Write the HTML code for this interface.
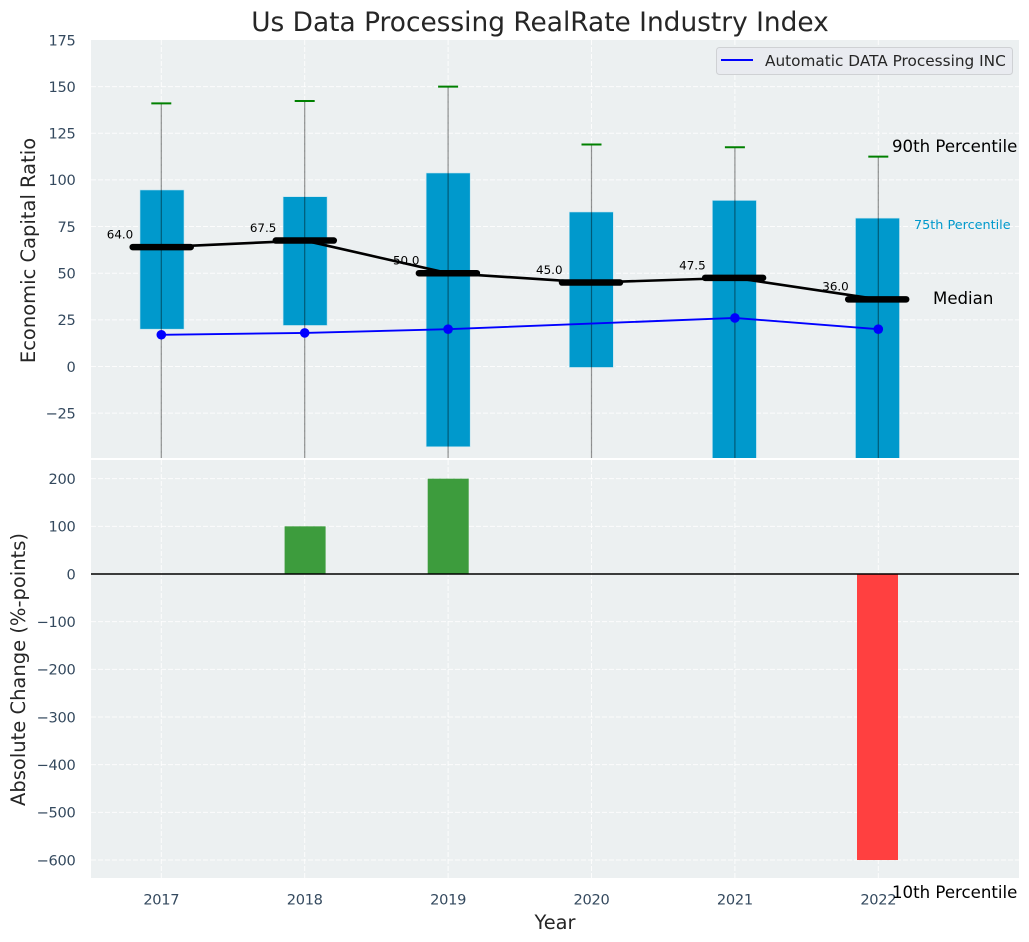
<!DOCTYPE html>
<html lang="en">
<head>
<meta charset="utf-8">
<title>Us Data Processing RealRate Industry Index</title>
<style>
html,body{margin:0;padding:0;background:#fff;width:1029px;height:942px;overflow:hidden}
svg{display:block}
text{font-family:"DejaVu Sans","Liberation Sans",sans-serif}
</style>
</head>
<body>
<svg id="chart" width="1029" height="942" viewBox="0 0 1029 942" xmlns="http://www.w3.org/2000/svg">
  <defs>
    <clipPath id="clip-top"><rect x="91" y="40" width="928" height="418"/></clipPath>
    <clipPath id="clip-bottom"><rect x="91" y="460" width="928" height="418"/></clipPath>
  </defs>
  <rect x="91" y="40" width="928" height="418" fill="#ecf0f1"/>
  <rect x="91" y="460" width="928" height="418" fill="#ecf0f1"/>
  <g id="grid-layer"></g>
  <g id="top-layer" clip-path="url(#clip-top)"></g>
  <g id="bottom-layer" clip-path="url(#clip-bottom)"></g>
  <g id="tick-layer"></g>

  <text x="540" y="31" font-size="26.4" fill="#262626" text-anchor="middle">Us Data Processing RealRate Industry Index</text>
  <text transform="translate(35,250.5) rotate(-90)" font-size="19.5" fill="#262626" text-anchor="middle">Economic Capital Ratio</text>
  <text transform="translate(25,669.5) rotate(-90)" font-size="19.5" fill="#262626" text-anchor="middle">Absolute Change (%-points)</text>
  <text x="555" y="929" font-size="19.4" fill="#262626" text-anchor="middle">Year</text>

  <text x="892" y="152" font-size="16.6" fill="#000">90th Percentile</text>
  <text x="914" y="229" font-size="12.8" fill="#0099cc">75th Percentile</text>
  <text x="933" y="304" font-size="16.6" fill="#000">Median</text>
  <text x="892" y="898" font-size="16.6" fill="#000">10th Percentile</text>

  <g>
    <rect x="716.5" y="47.5" width="296" height="27" rx="3" fill="#e9ebf0" stroke="#cfd1d4" stroke-width="1"/>
    <line x1="721" y1="60" x2="753" y2="60" stroke="#0000ff" stroke-width="2"/>
    <text x="765" y="66" font-size="15.3" fill="#262626">Automatic DATA Processing INC</text>
  </g>
</svg>
<script>
const years = [2017, 2018, 2019, 2020, 2021, 2022];
const p90 = [141, 142.3, 150, 119, 117.5, 112.5];
const p75 = [94.6, 91, 103.7, 82.8, 89, 79.5];
const p50 = [64, 67.5, 50, 45, 47.5, 36];
const p25 = [20, 22, -43, -0.5, -55, -60];
const p10 = [-80, -80, -80, -80, -80, -80];
const company = [17, 18, 20, null, 26, 20];
const changes = [null, 100, 200, null, null, -600];
const topTicks = [175, 150, 125, 100, 75, 50, 25, 0, -25];
const bottomTicks = [200, 100, 0, -100, -200, -300, -400, -500, -600];

const SVG_NS = 'http://www.w3.org/2000/svg';
const xScale = v => 161.3 + (v - 2017) * 143.4;
const xBar = v => 162 + (v - 2017) * 143.1;
const yTop = v => 366.5 - v * 1.866;
const yBottom = v => 574 - v * 0.4767;

function make(tag, attrs, parent) {
  const el = document.createElementNS(SVG_NS, tag);
  for (const k in attrs) el.setAttribute(k, attrs[k]);
  parent.appendChild(el);
  return el;
}
const fmt = v => String(v).replace('-', '\u2212');

const gridLayer = document.getElementById('grid-layer');
const topLayer = document.getElementById('top-layer');
const bottomLayer = document.getElementById('bottom-layer');
const tickLayer = document.getElementById('tick-layer');
const gridStyle = {stroke: '#ffffff', 'stroke-width': 1, 'stroke-dasharray': '5 2', opacity: 0.85};
const tickStyle = {'font-size': 14.6, 'letter-spacing': '-0.3px', fill: '#34495e'};

topTicks.forEach(t => {
  const y = yTop(t);
  if (t !== 175) {
    const g = make('line', {x1: 91, x2: 1019, y1: y, y2: y, ...gridStyle}, gridLayer);
    
    
  }
  const l = make('text', {x: 75.5, y: y + 5.3, 'text-anchor': 'end', ...tickStyle}, tickLayer);
  l.textContent = fmt(t);
  
  
});
bottomTicks.forEach(t => {
  const y = yBottom(t);
  const g = make('line', {x1: 91, x2: 1019, y1: y, y2: y, ...gridStyle}, gridLayer);
  
  
  const l = make('text', {x: 75.5, y: y + 5.3, 'text-anchor': 'end', ...tickStyle}, tickLayer);
  l.textContent = fmt(t);
  
  
});
years.forEach(yr => {
  const x = xScale(yr);
  const a = make('line', {x1: x, x2: x, y1: 40, y2: 458, ...gridStyle}, gridLayer);
  
  
  const b = make('line', {x1: x, x2: x, y1: 460, y2: 878, ...gridStyle}, gridLayer);
  
  
  const l = make('text', {x: x, y: 904.3, 'text-anchor': 'middle', ...tickStyle}, tickLayer);
  l.textContent = yr;
  
  
});

// Interquartile boxes
years.forEach((yr, i) => {
  const r = make('rect', {
    x: xBar(yr) - 22, y: yTop(p75[i]), width: 44,
    height: yTop(p25[i]) - yTop(p75[i]), fill: '#0099cc', stroke: '#bfe3ef', 'stroke-width': 0.6
  }, topLayer);
  
  
});
// Whiskers and caps
years.forEach((yr, i) => {
  const x = xScale(yr);
  const w = make('line', {x1: x, x2: x, y1: yTop(p90[i]), y2: yTop(p10[i]), stroke: '#000', 'stroke-width': 1.2, 'stroke-opacity': 0.42}, topLayer);
  
  
  const c = make('line', {x1: x - 10, x2: x + 10, y1: yTop(p90[i]), y2: yTop(p90[i]), stroke: '#008000', 'stroke-width': 2}, topLayer);
  
  
});
// Median value labels
years.forEach((yr, i) => {
  const t = make('text', {x: xBar(yr) - 42, y: yTop(p50[i]) - 8.6, 'font-size': 11.9, fill: '#000', 'text-anchor': 'middle'}, topLayer);
  t.textContent = p50[i].toFixed(1);
  
  
});
// Median trend line
const medianPath = make('polyline', {
  points: years.map((yr, i) => xScale(yr) + ',' + yTop(p50[i])).join(' '),
  fill: 'none', stroke: '#000', 'stroke-width': 2.6, 'stroke-linejoin': 'round'
}, topLayer);


// Thick median bars
years.forEach((yr, i) => {
  const x = xBar(yr) - 0.3;
  const m = make('line', {x1: x - 29, x2: x + 29, y1: yTop(p50[i]), y2: yTop(p50[i]), stroke: '#000', 'stroke-width': 6.5, 'stroke-linecap': 'round'}, topLayer);
  
  
});
// Company series: the line skips missing years
const companyPoints = years.map((yr, i) => company[i] === null ? null : [xScale(yr), yTop(company[i])]).filter(Boolean);
const companyLine = make('polyline', {
  points: companyPoints.map(p => p.join(',')).join(' '),
  fill: 'none', stroke: '#0000ff', 'stroke-width': 1.9
}, topLayer);


companyPoints.forEach(p => {
  const d = make('circle', {cx: p[0], cy: p[1], r: 4.8, fill: '#0000ff'}, topLayer);
  
  
});
// Change bars
years.forEach((yr, i) => {
  if (changes[i] === null) return;
  const y0 = yBottom(0), y1 = yBottom(changes[i]);
  const r = make('rect', {
    x: xBar(yr) - 20.5, y: Math.min(y0, y1), width: 41, height: Math.abs(y1 - y0),
    fill: changes[i] >= 0 ? '#3d9c3d' : '#ff4040'
  }, bottomLayer);
  
  
});
const zeroLine = make('line', {x1: 91, x2: 1019, y1: yBottom(0), y2: yBottom(0), stroke: '#000', 'stroke-width': 1.5}, bottomLayer);


</script>
</body>
</html>
